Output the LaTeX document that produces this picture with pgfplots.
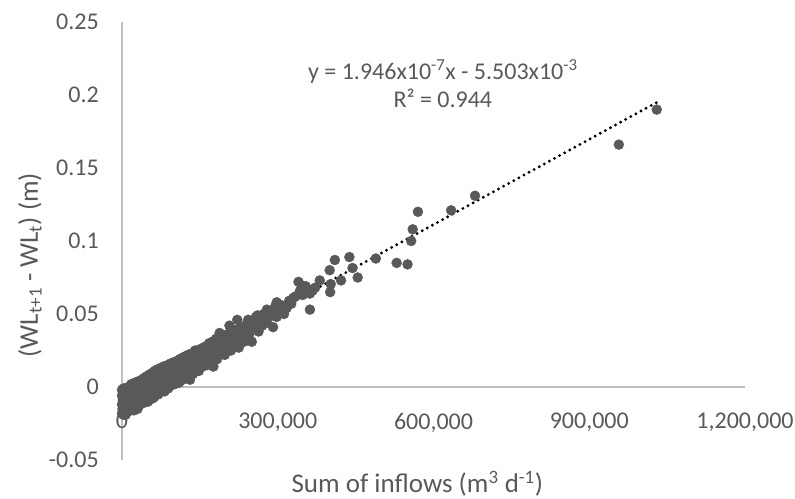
\documentclass[border=0pt]{standalone}
\usepackage{fontspec}
\setmainfont{Carlito}
\usepackage{pgfplots}
\usepackage{pgfplotstable}
\pgfplotsset{compat=1.18}
\definecolor{txt}{HTML}{595959}
\definecolor{pts}{HTML}{595959}
\definecolor{axl}{HTML}{BFBFBF}

\pgfplotstableread{
x y
0 -0.018
0 -0.012
0 -0.006
0 -0.002
1000 -0.015
1500 -0.009
2000 -0.004
2500 -0.019
3000 -0.001
3500 -0.011
4000 -0.007
5000 -0.016
5000 -0.003
6000 -0.013
6500 -0.008
7000 -0.019
8000 -0.005
8500 -0.001
9000 -0.014
10000 -0.010
11000 -0.017
12000 -0.004
12000 0.000
13000 -0.012
14000 -0.007
15000 -0.002
16000 -0.015
17000 -0.009
18000 0.002
19000 -0.005
20000 -0.013
21000 0.001
22000 -0.008
23000 -0.016
24000 -0.003
25000 0.003
26000 -0.011
27000 -0.006
28000 0.000
30000 -0.015
31000 -0.009
32000 0.004
33000 -0.003
34000 -0.012
35000 0.002
36000 -0.006
38000 -0.010
39000 0.005
40000 -0.001
41000 -0.011
42000 0.006
43000 -0.004
44000 0.002
45000 -0.008
46000 0.007
48000 -0.002
49000 0.004
50000 -0.010
51000 0.008
52000 0.000
53000 -0.006
55000 0.009
56000 0.003
57000 -0.004
58000 -0.008
60000 0.010
60000 0.005
61000 -0.001
62000 -0.007
63000 0.011
64000 0.002
65000 -0.004
66000 0.007
68000 0.012
69000 0.001
70000 -0.005
71000 0.009
72000 0.004
74000 0.013
75000 -0.002
76000 0.006
78000 0.010
79000 0.000
80000 0.014
81000 0.004
82000 -0.003
84000 0.008
85000 0.012
86000 0.002
88000 0.015
89000 -0.001
90000 0.010
91000 0.005
93000 0.016
94000 0.001
95000 0.008
97000 0.013
98000 0.004
100000 0.017
101000 0.009
102000 0.002
104000 0.014
105000 0.006
107000 0.018
108000 0.011
110000 0.003
111000 0.019
112000 0.008
114000 0.014
116000 0.020
117000 0.005
118000 0.011
120000 0.017
122000 0.021
123000 0.008
125000 0.014
127000 0.022
130000 0.018
131000 0.005
132000 0.011
134000 0.023
136000 0.016
137000 0.009
139000 0.020
141000 0.025
142000 0.013
144000 0.019
146000 0.024
148000 0.011
150000 0.021
151000 0.026
153000 0.017
155000 0.014
157000 0.027
158000 0.022
160000 0.018
162000 0.028
164000 0.015
166000 0.024
168000 0.030
170000 0.020
172000 0.026
174000 0.031
176000 0.014
177000 0.023
179000 0.029
181000 0.033
183000 0.019
185000 0.027
187000 0.034
188000 0.037
190000 0.024
192000 0.030
194000 0.035
196000 0.027
198000 0.022
200000 0.033
202000 0.036
204000 0.029
207000 0.042
208000 0.031
210000 0.025
212000 0.037
214000 0.034
216000 0.028
218000 0.039
221000 0.033
222000 0.046
224000 0.036
225000 0.027
227000 0.040
230000 0.035
232000 0.041
235000 0.031
238000 0.038
240000 0.043
243000 0.046
245000 0.036
248000 0.040
250000 0.031
252000 0.044
256000 0.041
258000 0.048
261000 0.049
263000 0.038
266000 0.045
270000 0.042
273000 0.050
276000 0.046
279000 0.053
279000 0.044
283000 0.048
287000 0.051
291000 0.041
295000 0.055
298000 0.058
298000 0.048
303000 0.053
307000 0.056
312000 0.050
317000 0.054
322000 0.059
326000 0.057
330000 0.061
334000 0.062
340000 0.072
343000 0.066
348000 0.063
350000 0.069
354000 0.069
358000 0.067
362000 0.064
362000 0.053
367000 0.066
372000 0.068
381000 0.073
400000 0.080
401000 0.065
402000 0.0705
410000 0.087
422000 0.073
438000 0.089
444000 0.0815
454000 0.075
489000 0.088
529000 0.085
550000 0.084
557000 0.100
560000 0.108
570000 0.120
634000 0.121
680000 0.131
957000 0.166
1030000 0.190
}\scatterdata

\begin{document}
\begin{tikzpicture}
\path[use as bounding box] (-122bp,-39bp) rectangle (673bp,460bp);
\begin{axis}[
  at={(0,0)}, anchor=south west,
  scale only axis, width=623bp, height=438bp,
  xmin=0, xmax=1200000, ymin=-0.05, ymax=0.25,
  axis x line=middle, axis y line=left,
  axis line style={axl, line width=1.2bp, -},
  every inner x axis line/.append style={-},
  every outer y axis line/.append style={-},
  scaled x ticks=false, scaled y ticks=false,
  xtick={0,300000,600000,900000,1200000},
  xticklabels={0,{300,000},{600,000},{900,000},{1,200,000}},
  ytick={-0.05,0,0.05,0.1,0.15,0.2,0.25},
  yticklabels={-0.05,0,0.05,0.1,0.15,0.2,0.25},
  major tick length=0pt,
  tick style={draw=none},
  hide obscured x ticks=false, hide obscured y ticks=false,
  xticklabel style={font=\fontsize{24bp}{28bp}\selectfont, text=txt, anchor=north, inner sep=0pt, yshift=-26bp},
  yticklabel style={font=\fontsize{24bp}{28bp}\selectfont, text=txt, anchor=east, inner sep=0pt, xshift=-23bp},
  clip=false,
]
\addplot[only marks, mark=*, mark size=5bp, mark options={fill=pts, draw=pts}] table[x=x, y=y] {\scatterdata};
\addplot[black, line width=3.2bp, line cap=round, dash pattern=on 0pt off 5.8bp] coordinates {(0,-0.005503) (1030000,0.194935)};
\node[align=center, text=txt, font=\fontsize{24bp}{28bp}\selectfont, anchor=center] at (axis cs:618000,0.208)
  {y = 1.946x10\textsuperscript{-7}x - 5.503x10\textsuperscript{-3}\\R² = 0.944};
\node[text=txt, font=\fontsize{27bp}{32bp}\selectfont, anchor=center] at (rel axis cs:0.474,-0.055)
  {Sum of inflows (m\textsuperscript{3} d\textsuperscript{-1})};
\node[text=txt, font=\fontsize{27bp}{32bp}\selectfont, anchor=center, rotate=90] at (rel axis cs:-0.1477,0.445)
  {(WL\textsubscript{t+1} - WL\textsubscript{t}) (m)};
\end{axis}
\end{tikzpicture}
\end{document}
